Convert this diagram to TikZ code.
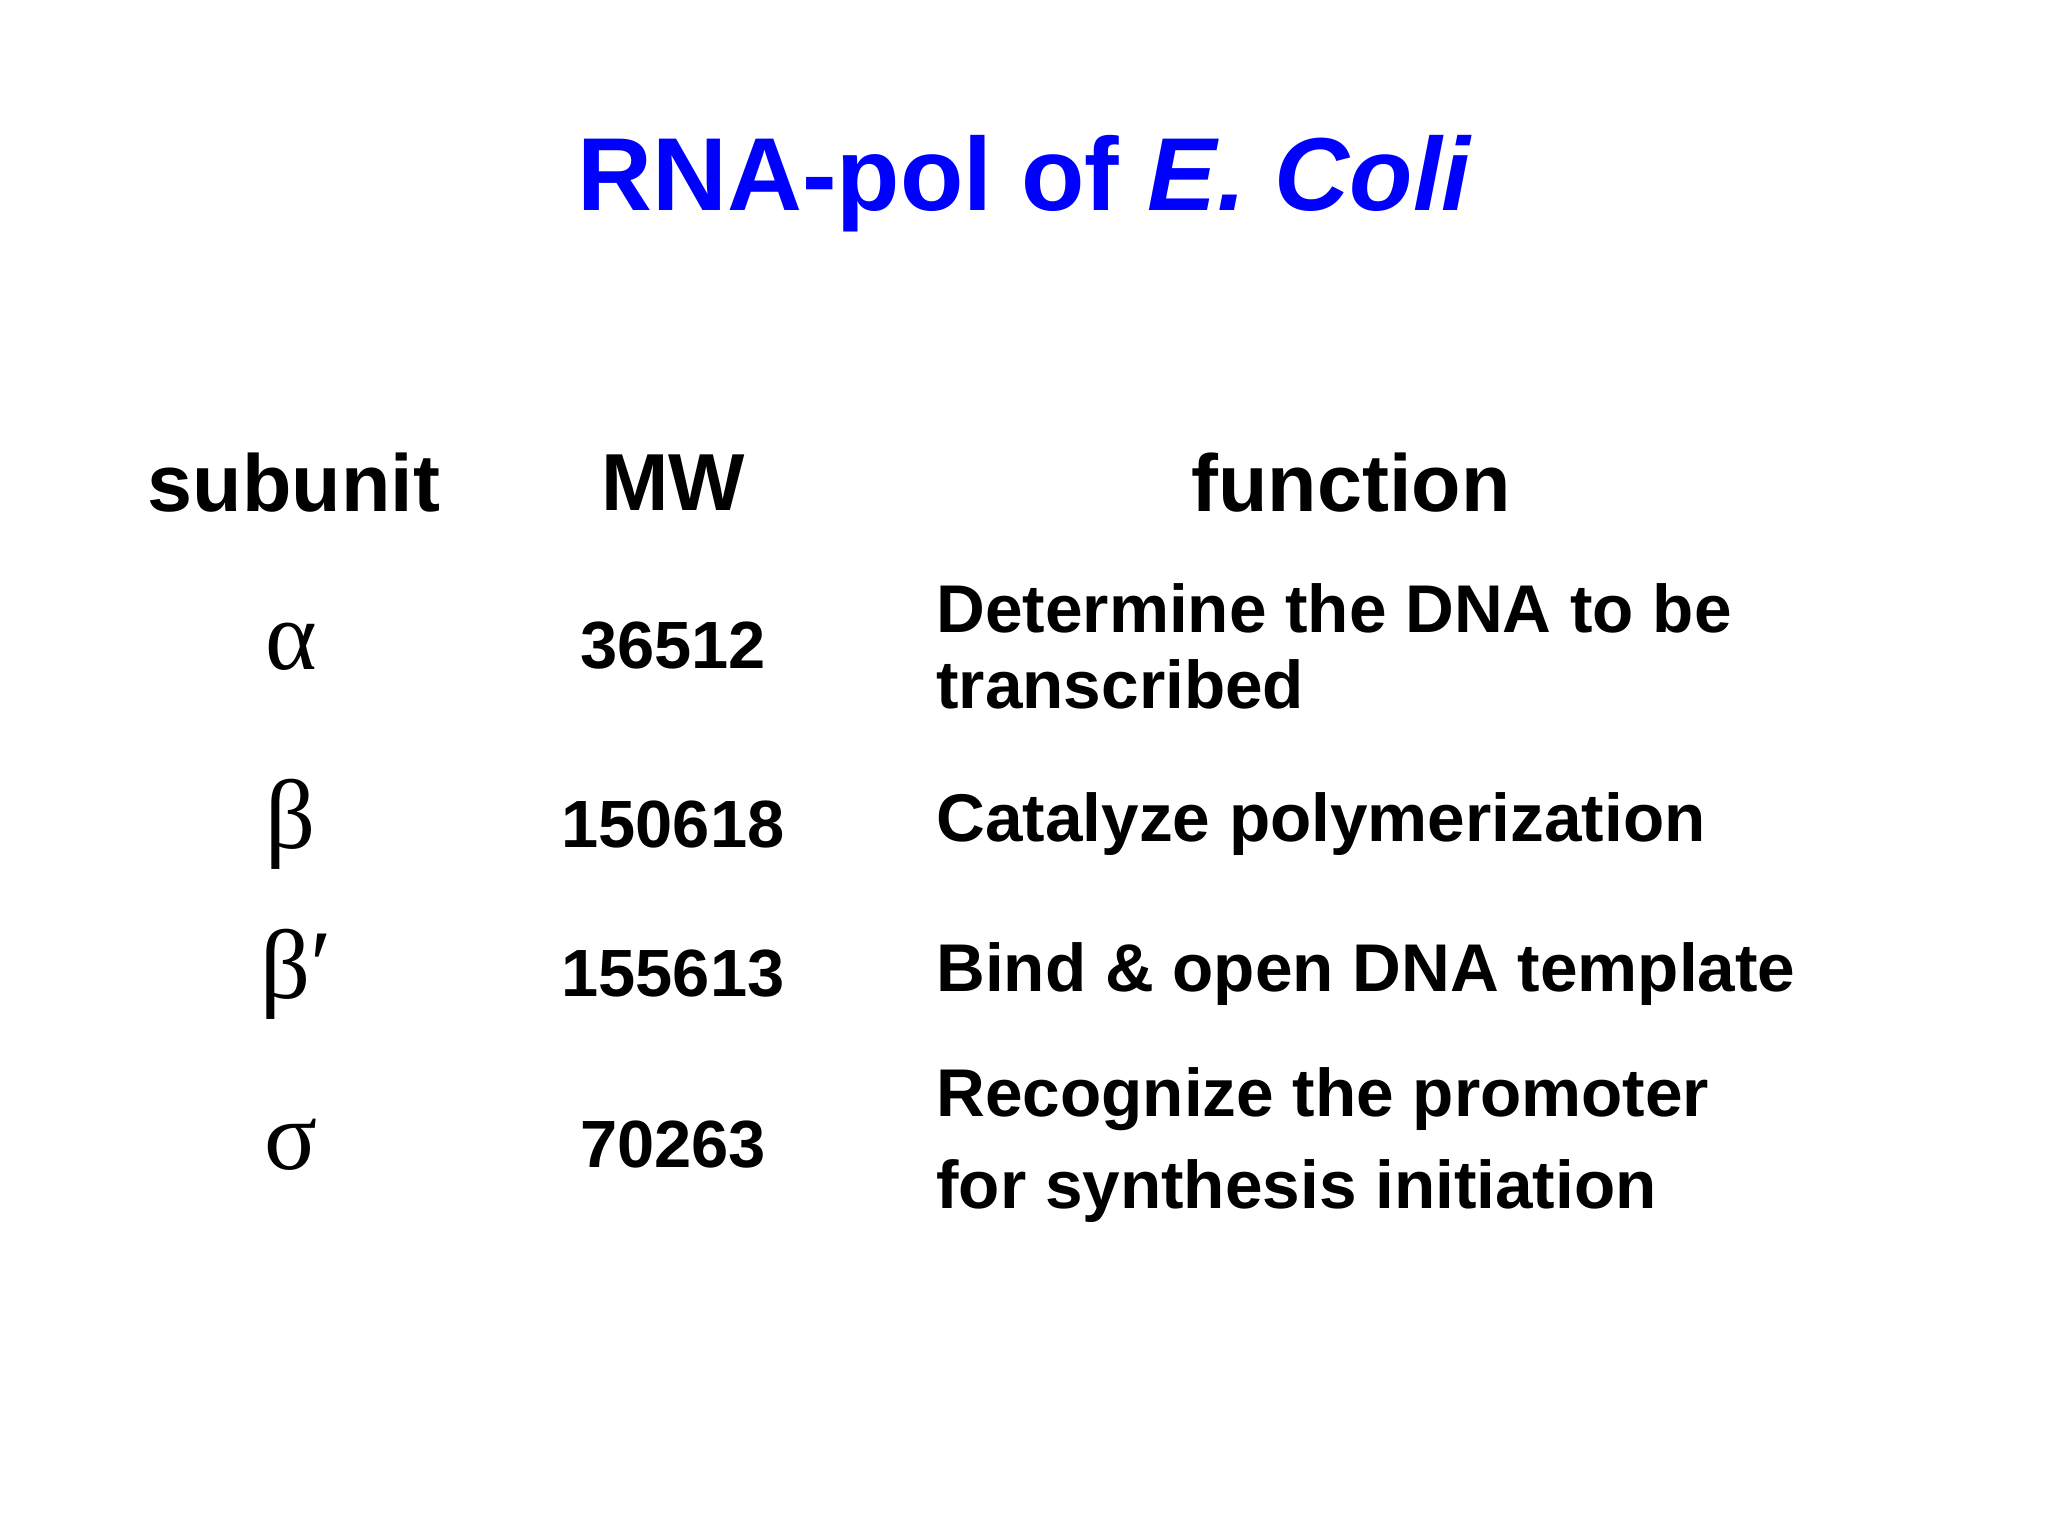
\documentclass[tikz,border=0pt]{standalone}
\usepackage{fontspec}
\setmainfont{Liberation Sans}
\newfontfamily\grk{Liberation Serif}
\begin{document}
\begin{tikzpicture}[x=0.01cm,y=-0.01cm,
  hdr/.style={font=\fontsize{23}{27}\selectfont\bfseries},
  cell/.style={font=\fontsize{19}{23}\selectfont\bfseries},
  fn/.style={font=\fontsize{19.2}{23}\selectfont\bfseries,anchor=west},
  gk/.style={font=\fontsize{28}{32}\selectfont\grk}]
\useasboundingbox (0,0) rectangle (2048,1536);
\node[font=\fontsize{29.5}{34}\selectfont\bfseries,text=blue] (title) at (1025,184) {RNA-pol of \textit{E. Coli}};
\node[hdr] (h1) at (294,483) {subunit};
\node[hdr] (h2) at (673,483) {MW};
\node[hdr] (h3) at (1351,483) {function};
\node[gk] (g1) at (291,647) {α};
\node[gk] (g2) at (291,824) {β};
\node[gk] (g3) at (296,974) {β′};
\node[gk] (g4) at (291,1145) {σ};
\node[cell] (m1) at (673,646) {36512};
\node[cell] (m2) at (673,824) {150618};
\node[cell] (m3) at (673,974) {155613};
\node[cell] (m4) at (673,1145) {70263};
\node[fn] (f1a) at (924,608) {Determine the DNA to be};
\node[fn] (f1b) at (924,684) {transcribed};
\node[fn] (f2) at (924,824) {Catalyze polymerization};
\node[fn] (f3) at (924,974) {Bind \& open DNA template};
\node[fn] (f4a) at (924,1099) {Recognize the promoter};
\node[fn] (f4b) at (924,1191) {for synthesis initiation};
\end{tikzpicture}
\end{document}
